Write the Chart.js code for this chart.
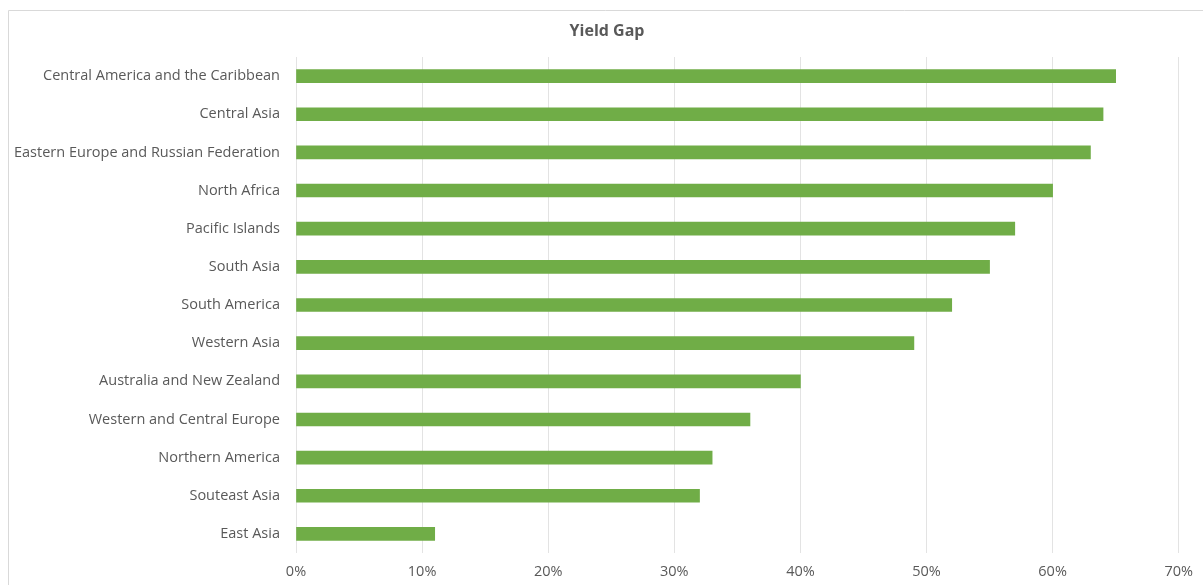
<!DOCTYPE html>
<html>
<head>
<meta charset="utf-8">
<script src="https://cdn.jsdelivr.net/npm/chart.js@4/dist/chart.umd.min.js"></script>
<style>
  html, body { margin: 0; padding: 0; background: #fff; }
  #wrap { width: 1203px; height: 585px; position: relative; }
</style>
</head>
<body>
<div id="wrap"><canvas id="yieldChart"></canvas></div>
<script>
const chartTitle = 'Yield Gap';
const regions = [
    'Central America and the Caribbean',
    'Central Asia',
    'Eastern Europe and Russian Federation',
    'North Africa',
    'Pacific Islands',
    'South Asia',
    'South America',
    'Western Asia',
    'Australia and New Zealand',
    'Western and Central Europe',
    'Northern America',
    'Souteast Asia',
    'East Asia'
];
const yieldGap = [65, 64, 63, 60, 57, 55, 52, 49, 40, 36, 33, 32, 11];
const xTicks = [0, 10, 20, 30, 40, 50, 60, 70];

// frame (top and left edges visible) plus the title, centred on the frame
const frame = {
    id: 'frame',
    beforeDraw(chart) {
        const ctx = chart.ctx;
        ctx.save();
        ctx.strokeStyle = '#d9d9d9';
        ctx.lineWidth = 1;
        ctx.beginPath();
        ctx.moveTo(8.5, chart.height);
        ctx.lineTo(8.5, 10.5);
        ctx.lineTo(chart.width, 10.5);
        ctx.stroke();

        ctx.fillStyle = '#595959';
        ctx.font = 'bold 16px "Open Sans"';
        ctx.textAlign = 'center';
        ctx.textBaseline = 'middle';
        ctx.fillText(chartTitle, 607, 31);
        ctx.restore();
    }
};

const ctx = document.getElementById('yieldChart').getContext('2d');
new Chart(ctx, {
    type: 'bar',
    data: {
        labels: regions,
        datasets: [{
            label: chartTitle,
            data: yieldGap,
            backgroundColor: '#70ad47',
            barThickness: 13
        }]
    },
    plugins: [frame],
    options: {
        indexAxis: 'y',
        responsive: true,
        maintainAspectRatio: false,
        animation: false,
        layout: { padding: { left: 0, right: 23, top: 57, bottom: 4 } },
        plugins: {
            legend: { display: false },
            tooltip: { enabled: false },
            title: { display: false }
        },
        scales: {
            x: {
                min: 0,
                max: 70,
                afterBuildTicks(scale) {
                    scale.ticks = xTicks.map(v => ({ value: v }));
                },
                afterFit(scale) { scale.height = 28; },
                grid: { color: '#e3e3e3', drawTicks: false },
                border: { display: false },
                ticks: {
                    padding: 10,
                    maxRotation: 0,
                    color: '#595959',
                    font: { family: 'Open Sans', size: 14.5 },
                    callback: v => v + '%'
                }
            },
            y: {
                afterFit(scale) { scale.width = 296; },
                grid: { display: false, drawTicks: false },
                border: { display: false },
                ticks: {
                    padding: 16,
                    color: '#595959',
                    font: { family: 'Open Sans', size: 14.5 }
                }
            }
        }
    }
});
</script>
</body>
</html>
